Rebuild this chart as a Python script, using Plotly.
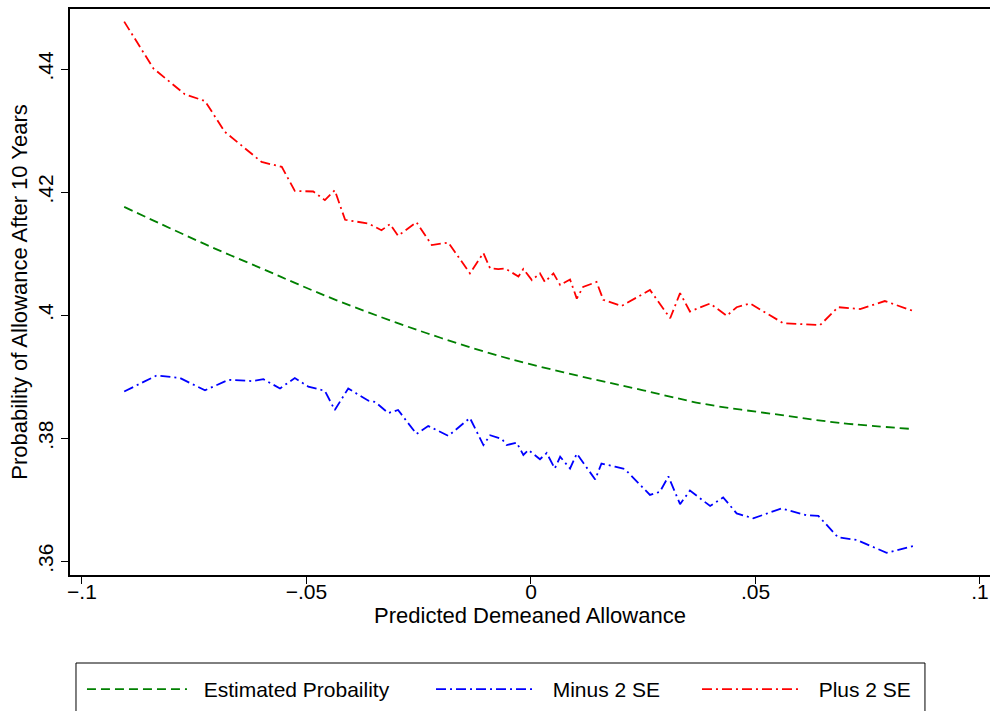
import plotly.graph_objects as go

# Estimated probability (smooth curve)
est_x = [-0.0906, -0.08, -0.07, -0.06, -0.0518, -0.0425, -0.03, -0.02, -0.01, 0.0,
         0.0139, 0.025, 0.0384, 0.0555, 0.0688, 0.0851]
est_y = [0.4176, 0.4140, 0.4107, 0.4076, 0.4050, 0.4022, 0.3988, 0.3963, 0.3940, 0.3920,
         0.3896, 0.3878, 0.3856, 0.3838, 0.3825, 0.3815]

# Plus 2 SE
plus_x = [-0.0906, -0.0841, -0.0771, -0.0726, -0.0682, -0.0600, -0.0555, -0.0526, -0.0485,
          -0.0459, -0.0437, -0.0414, -0.0362, -0.0333, -0.0314, -0.0296, -0.0255, -0.0221,
          -0.0184, -0.0136, -0.0106, -0.0091, -0.0073, -0.0058, -0.0028, -0.0017, 0.0002,
          0.0020, 0.0031, 0.0050, 0.0065, 0.0087, 0.0102, 0.0116, 0.0146, 0.0161, 0.0202,
          0.0265, 0.0310, 0.0332, 0.0354, 0.0399, 0.0436, 0.0458, 0.0488, 0.0562, 0.0644,
          0.0684, 0.0733, 0.0788, 0.0851]
plus_y = [0.4477, 0.4401, 0.4359, 0.4348, 0.4298, 0.4249, 0.4241, 0.4202, 0.4201,
          0.4187, 0.4203, 0.4155, 0.4149, 0.4138, 0.4148, 0.4129, 0.4151, 0.4114,
          0.4118, 0.4068, 0.4101, 0.4076, 0.4075, 0.4076, 0.4063, 0.4075, 0.4057,
          0.4068, 0.4054, 0.4068, 0.4049, 0.4058, 0.4027, 0.4046, 0.4054, 0.4025, 0.4015,
          0.4041, 0.3995, 0.4036, 0.4006, 0.4019, 0.3999, 0.4013, 0.4019, 0.3987, 0.3984,
          0.4013, 0.4010, 0.4023, 0.4007]

# Minus 2 SE
minus_x = [-0.0906, -0.0834, -0.0782, -0.0726, -0.0674, -0.0622, -0.0596, -0.0559, -0.0526,
           -0.0496, -0.0459, -0.0437, -0.0407, -0.0362, -0.0347, -0.0318, -0.0296, -0.0255,
           -0.0229, -0.0184, -0.0136, -0.0106, -0.0091, -0.0065, -0.0054, -0.0032, -0.0017,
           -0.0006, 0.0020, 0.0035, 0.0053, 0.0065, 0.0087, 0.0102, 0.0143, 0.0157, 0.0187,
           0.0209, 0.0265, 0.0287, 0.0306, 0.0332, 0.0354, 0.0399, 0.0428, 0.0458, 0.0495,
           0.0558, 0.0614, 0.0640, 0.0684, 0.0725, 0.0792, 0.0851]
minus_y = [0.3876, 0.3902, 0.3898, 0.3878, 0.3895, 0.3893, 0.3896, 0.3881, 0.3898,
           0.3884, 0.3877, 0.3846, 0.3881, 0.3861, 0.3859, 0.3841, 0.3846, 0.3807,
           0.3820, 0.3804, 0.3833, 0.3789, 0.3805, 0.3799, 0.3789, 0.3793, 0.3773,
           0.3781, 0.3766, 0.3776, 0.3751, 0.3770, 0.3751, 0.3775, 0.3733, 0.3759, 0.3754,
           0.3750, 0.3708, 0.3713, 0.3738, 0.3693, 0.3715, 0.3690, 0.3704, 0.3678, 0.3670,
           0.3686, 0.3675, 0.3674, 0.3639, 0.3635, 0.3614, 0.3625]

x_ticks = [-0.1, -0.05, 0, 0.05, 0.1]
x_ticklabels = ["\u2212.1", "\u2212.05", "0", ".05", ".1"]
y_ticks = [0.36, 0.38, 0.40, 0.42, 0.44]
y_ticklabels = [".36", ".38", ".4", ".42", ".44"]

FONT = "Liberation Sans, Arial, sans-serif"
NB = "\u00a0\u00a0"

fig = go.Figure()
fig.add_trace(go.Scatter(x=est_x, y=est_y, mode="lines", name=NB + "Estimated Probaility",
                         legend="legend",
                         line=dict(color="#008000", width=1.8, dash="9px,5px", shape="spline")))
fig.add_trace(go.Scatter(x=minus_x, y=minus_y, mode="lines", name=NB + "Minus 2 SE",
                         legend="legend2",
                         line=dict(color="#0000ff", width=1.8, dash="10px,4px,2px,4px")))
fig.add_trace(go.Scatter(x=plus_x, y=plus_y, mode="lines", name=NB + "Plus 2 SE",
                         legend="legend3",
                         line=dict(color="#ff0000", width=1.8, dash="10px,4px,2px,4px")))

leg_common = dict(orientation="h", xanchor="left", y=-0.1661, yanchor="top",
                  borderwidth=0, bgcolor="rgba(0,0,0,0)", itemwidth=100,
                  font=dict(family=FONT, size=21))

TITLE_FONT = dict(family=FONT, size=22, color="black")

# plot area at x 70-990, y 9-575 of the 990x711 page
fig.update_layout(
    width=990, height=711,
    margin=dict(l=70, r=0, t=9, b=136, autoexpand=False),
    paper_bgcolor="white", plot_bgcolor="white",
    font=dict(family=FONT, size=21, color="black"),
    showlegend=True,
    legend=dict(x=0.013, **leg_common),
    legend2=dict(x=0.3924, **leg_common),
    legend3=dict(x=0.6815, **leg_common),
    shapes=[dict(type="rect", xref="paper", yref="paper",
                 x0=0.00652, x1=0.9293, y0=-0.2562, y1=-0.15548,
                 line=dict(color="black", width=1), fillcolor="rgba(0,0,0,0)")],
    xaxis=dict(range=[-0.10267, 0.10223], tickvals=x_ticks, ticktext=x_ticklabels,
               showgrid=False, zeroline=False, showline=True, linecolor="black", linewidth=1.5,
               mirror=True, ticks="outside", ticklen=7, tickcolor="black",
               ticklabelstandoff=-10,
               title=dict(text="Predicted Demeaned Allowance", standoff=4, font=TITLE_FONT)),
    yaxis=dict(range=[0.35779, 0.44975], tickvals=y_ticks, ticktext=y_ticklabels,
               showgrid=False, zeroline=False, showline=True, linecolor="black", linewidth=1.5,
               ticks="outside", ticklen=7, tickcolor="black", tickangle=-90,
               title=dict(text="Probability of Allowance After 10 Years", standoff=0,
                          font=TITLE_FONT)),
)

fig.write_html("out.html", config={"displayModeBar": False},
               post_script="document.body.style.margin='0';document.body.style.overflow='hidden';")
